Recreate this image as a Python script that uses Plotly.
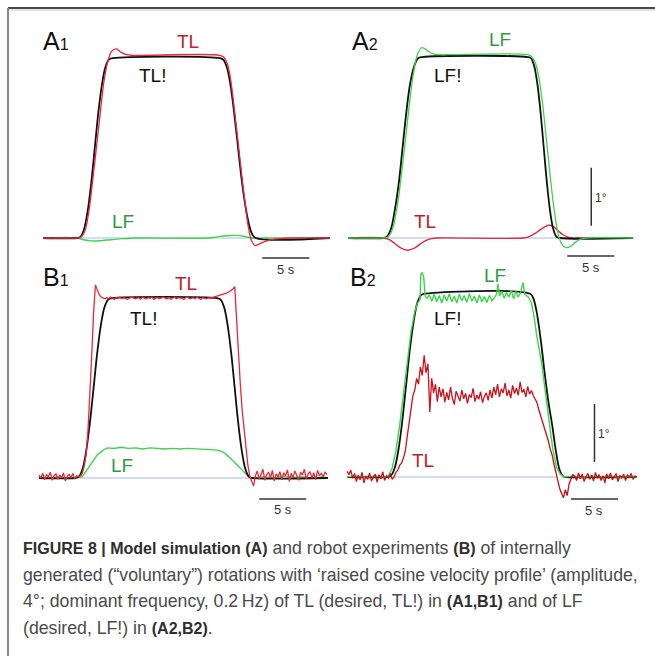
import numpy as np
import plotly.graph_objects as go

# ---------------------------------------------------------------------------
# Data (time in s, rotation in degrees)
# ---------------------------------------------------------------------------
# A1 : model simulation, desired TL! rotation
A1_CMD_T = [0, 3.6, 3.98, 4.36, 4.74, 5.12, 5.5, 5.88, 6.26, 6.64, 7.02, 7.4, 18.8, 19.18, 19.56,
            19.94, 20.32, 20.7, 21.08, 21.46, 21.84, 22.22, 22.6, 30.5]
A1_CMD_V = [0, 0, 0.02, 0.15, 0.46, 0.94, 1.55, 2.16, 2.64, 2.95, 3.08, 3.1, 3.1, 3.07, 2.93,
            2.62, 2.15, 1.6, 1.05, 0.6, 0.27, 0.07, 0, 0]
A1_TL_T = [0, 3.6, 4.0, 4.4, 4.8, 5.2, 5.65, 6.1, 6.5, 6.9, 7.3, 7.8, 8.3, 8.9, 9.6, 18.8, 19.2,
           19.6, 19.95, 20.35, 20.75, 21.15, 21.55, 21.9, 22.2, 22.55, 22.9, 23.4, 24.2, 25.2, 26.5, 30.5]
A1_TL_V = [0, 0, 0.01, 0.1, 0.38, 0.88, 1.52, 2.18, 2.72, 3.05, 3.22, 3.26, 3.2, 3.16, 3.15, 3.15, 3.12,
           3.0, 2.72, 2.2, 1.62, 1.05, 0.5, 0.12, -0.06, -0.13, -0.11, -0.07, -0.03, -0.01, 0, 0]
A1_LF_T = [0, 3.6, 4.3, 5.2, 6.2, 7.2, 8.5, 10, 17.5, 18.5, 19.5, 20.5, 21.3, 22.2, 23.5, 30.5]
A1_LF_V = [0, 0, -0.03, -0.05, -0.045, -0.03, -0.01, 0, 0, 0.02, 0.04, 0.045, 0.03, 0.0, 0, 0]
A1_ZERO_T = [2.5, 23.0]

# A2 : model simulation, desired LF! rotation
A2_CMD_T = [0, 3.7, 4.1, 4.55, 4.95, 5.4, 5.8, 6.2, 6.6, 7.05, 7.45, 7.9, 19.1, 19.44, 19.78,
            20.12, 20.46, 20.8, 21.14, 21.48, 21.82, 22.16, 22.5, 30.3]
A2_CMD_V = [0, 0, 0.02, 0.15, 0.46, 0.95, 1.56, 2.17, 2.66, 2.97, 3.1, 3.12, 3.12, 3.1, 2.97,
            2.66, 2.17, 1.56, 0.95, 0.46, 0.15, 0.02, 0, 0]
A2_LF_T = [0, 3.72, 4.2, 4.65, 5.1, 5.55, 6.0, 6.45, 6.9, 7.35, 7.8, 8.1, 8.5, 9.0, 9.8, 10.6, 19.1,
           19.5, 19.9, 20.3, 20.7, 21.1, 21.5, 21.9, 22.3, 22.7, 23.1, 23.6, 24.1, 24.7, 25.4, 30.3]
A2_LF_V = [0, 0, 0.01, 0.12, 0.42, 0.92, 1.55, 2.2, 2.78, 3.15, 3.28, 3.27, 3.22, 3.18, 3.16, 3.16, 3.16,
           3.13, 3.02, 2.75, 2.28, 1.68, 1.05, 0.5, 0.1, -0.1, -0.16, -0.15, -0.08, -0.02, 0, 0]
A2_TL_T = [0, 3.72, 4.4, 5.0, 5.6, 6.3, 7.0, 7.7, 8.3, 8.9, 9.5, 18.6, 19.2, 19.8, 20.4, 21.0, 21.4,
           21.8, 22.3, 22.8, 23.3, 23.9, 24.5, 30.3]
A2_TL_V = [0, 0, -0.03, -0.1, -0.17, -0.21, -0.18, -0.1, -0.04, -0.01, 0, 0, 0.02, 0.07, 0.14, 0.2, 0.22,
           0.2, 0.13, 0.06, 0.02, 0, 0, 0]
A2_ZERO_T = [3.7, 23.9]

# B1 : robot experiment, desired TL! rotation
B1_CMD_T = [0, 3.83, 4.22, 4.62, 5.01, 5.4, 5.8, 6.19, 6.58, 6.97, 7.37, 7.76, 18.9, 19.28, 19.66,
            20.04, 20.42, 20.8, 21.18, 21.56, 21.94, 22.32, 22.7, 30.7]
B1_CMD_V = [0, 0, 0.02, 0.15, 0.46, 0.94, 1.55, 2.16, 2.64, 2.95, 3.08, 3.1, 3.1, 3.08, 2.95,
            2.64, 2.16, 1.55, 0.94, 0.46, 0.15, 0.02, 0, 0]
B1_TL_DT = 0.2
B1_TL_V = [0.05, 0.0, 0.08, -0.03, 0.06, 0.02, 0.1, -0.04, 0.04, 0.07, -0.02, 0.05, 0.0, 0.09, -0.05,
           0.03, 0.06, 0.01, 0.08, -0.02, 0.04, 0.02, 0.03,
           0.08, 0.2, 0.4, 0.8, 1.4, 2.1, 2.85, 3.33, 3.24, 3.16, 3.12, 3.1, 3.09,
           3.11, 3.09, 3.12, 3.1, 3.08, 3.11, 3.1, 3.12, 3.09, 3.11, 3.1, 3.08, 3.1, 3.12, 3.11,
           3.09, 3.1, 3.11, 3.08, 3.12, 3.1, 3.09, 3.11, 3.1, 3.12, 3.08, 3.1, 3.11, 3.09, 3.1,
           3.12, 3.1, 3.09, 3.11, 3.08, 3.1, 3.12, 3.09, 3.11, 3.1, 3.1, 3.08, 3.11, 3.12, 3.09,
           3.1, 3.11, 3.09, 3.12, 3.1, 3.08, 3.11, 3.1, 3.09, 3.11,
           3.1, 3.11, 3.12, 3.13, 3.13, 3.14, 3.15, 3.16, 3.17, 3.19, 3.21, 3.23, 3.26, 3.3,
           2.7, 2.12, 1.6, 1.15, 0.8, 0.5, 0.22, 0.03, -0.05, -0.14, 0.04,
           0.12, -0.02, 0.08, 0.15, -0.04, 0.06, 0.1, 0.0, 0.13, -0.05, 0.07, 0.02, 0.11, -0.03,
           0.09, 0.04, 0.14, -0.06, 0.08, 0.01, 0.12, 0.03, -0.04, 0.1, 0.05, 0.15, -0.02, 0.07,
           0.11, 0.0, 0.09, -0.03, 0.13, 0.04, 0.08, 0.02, 0.1, 0.06]
B1_LF_T = [0, 1, 2, 3, 4, 4.6, 5.0, 5.4, 5.8, 6.2, 6.6, 7.0, 7.3, 8.0, 8.7, 9.5, 10.3, 11.0, 11.8, 12.6,
           13.4, 14.2, 15.0, 15.8, 16.6, 17.4, 18.2, 19.0, 19.4, 19.8, 20.2, 20.6, 21.0, 21.4, 21.8,
           22.2, 22.5, 23, 24, 25, 26, 27, 28, 29, 30, 30.7]
B1_LF_V = [0.01, 0, 0.02, 0, 0.01, 0.02, 0.12, 0.22, 0.32, 0.4, 0.45, 0.5, 0.52, 0.51, 0.53, 0.51, 0.52,
           0.5, 0.52, 0.51, 0.5, 0.51, 0.5, 0.51, 0.5, 0.5, 0.49, 0.48, 0.46, 0.42, 0.36, 0.3, 0.24,
           0.17, 0.1, 0.04, 0.0, 0.01, 0.02, 0, 0.03, 0.01, 0.02, 0, 0.02, 0.01]
B1_ZERO_T = [4.3, 22.6]

# B2 : robot experiment, desired LF! rotation
B2_CMD_T = [0, 4.25, 4.66, 5.06, 5.47, 5.87, 6.28, 6.68, 7.09, 7.49, 7.9, 8.3, 19.45, 19.8, 20.15,
            20.6, 21.0, 21.4, 21.8, 22.2, 22.6, 23.0, 23.3, 30.8]
B2_CMD_V = [0, 0, 0.02, 0.15, 0.47, 0.96, 1.58, 2.2, 2.69, 3.01, 3.14, 3.16, 3.16, 3.08, 2.85,
            2.35, 1.8, 1.3, 0.9, 0.45, 0.12, 0.01, 0, 0]
B2_LF_T = [0, 1.0, 2.0, 3.0, 4.0, 4.4, 4.8, 5.2, 5.6, 6.0, 6.4, 6.8, 7.2, 7.5, 7.75, 7.85, 8.0, 8.15,
           8.3, 8.5, 8.75, 9.0, 9.27, 9.53, 9.8, 10.07, 10.33, 10.6, 10.87, 11.13, 11.4, 11.67,
           11.93, 12.2, 12.47, 12.73, 13.0, 13.27, 13.53, 13.8, 14.07, 14.33, 14.6, 14.87, 15.13,
           15.4, 15.7, 15.9, 16.05, 16.2, 16.45, 16.7, 16.95, 17.2, 17.45, 17.7, 17.95, 18.2,
           18.45, 18.7, 18.9, 19.15, 19.3, 19.6, 19.9, 20.15, 20.3, 20.45, 20.7, 21.05, 21.45,
           21.85, 22.25, 22.65, 23.1, 24, 25, 26, 27, 28, 29, 30, 30.8]
B2_LF_V = [0.0, 0.02, -0.01, 0.02, 0.0, 0.02, 0.15, 0.45, 0.9, 1.45, 2.0, 2.5, 2.85, 3.0, 3.05, 3.5,
           3.52, 3.45, 3.12, 3.08, 3.14, 3.03, 3.15, 3.02, 3.13, 3.0, 3.14, 3.03, 3.16, 3.02, 3.12,
           3.0, 3.15, 3.04, 3.13, 3.01, 3.16, 3.03, 3.12, 3.0, 3.14, 3.02, 3.11, 3.01, 3.13, 3.04,
           3.1, 3.15, 3.33, 3.12, 3.2, 3.08, 3.18, 3.1, 3.22, 3.07, 3.2, 3.1, 3.18, 3.35, 3.15,
           3.12, 3.1, 3.0, 2.75, 2.45, 2.3, 2.2, 1.95, 1.5, 1.0, 0.5, 0.18, 0.05, 0.0, 0.02, -0.01,
           0.02, 0.0, 0.02, -0.01, 0.01, 0]
B2_TL_DT = 0.2
B2_TL_V = [0.10, 0.04, 0.12, -0.02, 0.06, -0.08, 0.03, -0.05, 0.08, -0.1, 0.02, -0.04, 0.07, -0.07,
           0.0, 0.05, -0.09, 0.04, -0.03, 0.09, -0.06, 0.02, -0.02, 0.06, -0.04,
           0.0, 0.08, 0.12, 0.2, 0.24, 0.33, 0.45, 0.7, 0.95, 1.25, 1.4, 1.5, 1.7, 1.6, 1.9, 1.75,
           2.1, 1.8, 1.95, 1.12, 1.7, 1.45, 1.6, 1.3, 1.55,
           1.38, 1.52, 1.29, 1.46, 1.33, 1.55, 1.36, 1.25, 1.48, 1.40, 1.31, 1.50, 1.35, 1.44,
           1.27, 1.42, 1.37, 1.53, 1.30, 1.41, 1.34, 1.47, 1.28, 1.39, 1.45, 1.32, 1.50, 1.36,
           1.55, 1.42, 1.60, 1.38, 1.52, 1.45, 1.62, 1.40, 1.50, 1.36, 1.58, 1.44, 1.53, 1.41,
           1.64, 1.46, 1.51, 1.38, 1.56, 1.43, 1.49, 1.40,
           1.35, 1.28, 1.15, 1.05, 0.95, 0.85, 0.72, 0.62, 0.48, 0.38, 0.22, 0.08, -0.1, -0.2,
           -0.28, -0.36, -0.22, -0.32, -0.12, -0.05, 0.04,
           0.02, -0.06, 0.07, -0.03, 0.05, -0.08, 0.01, 0.06, -0.04, 0.03, -0.07, 0.08, -0.02,
           0.04, -0.06, 0.02, -0.1, 0.05, -0.03, 0.07, -0.05, 0.0, 0.06, -0.08, 0.03, -0.02, 0.05,
           -0.06, 0.04, -0.01, 0.06, -0.04, 0.02, 0.0]
B2_ZERO_T = [4.8, 22.3]

SCALE_TIME = 5      # s
SCALE_ANGLE = 1     # degree

# ---------------------------------------------------------------------------
# Layout geometry
# ---------------------------------------------------------------------------
W, H = 655, 656
SX, SY = 9.41, 58.0          # px per second, px per degree

RED = "#e8283c"
RED_DARK = "#c8121c"
GREEN = "#3cd44c"
BLACK = "#111111"
BLUE = "#a9b9ec"
TXT_RED = "#c4202a"
TXT_GREEN = "#2e9c3e"
FONT = "Liberation Sans, Arial, sans-serif"

# pixel box (left, right, top, bottom) and pixel position of t=0 / 0 deg
PANELS = [
    dict(name="A1", box=(30, 336, 16, 285), origin=(43, 238)),
    dict(name="A2", box=(338, 652, 16, 285), origin=(348, 238)),
    dict(name="B1", box=(30, 336, 262, 522), origin=(39, 478)),
    dict(name="B2", box=(338, 652, 262, 522), origin=(347, 477)),
]

fig = go.Figure()
layout_axes = {}
for i, p in enumerate(PANELS):
    L, R, T, B = p["box"]
    x0, y0 = p["origin"]
    sfx = "" if i == 0 else str(i + 1)
    layout_axes["xaxis" + sfx] = dict(domain=[L / W, R / W], range=[(L - x0) / SX, (R - x0) / SX],
                                      visible=False, fixedrange=True, anchor="y" + sfx)
    layout_axes["yaxis" + sfx] = dict(domain=[1 - B / H, 1 - T / H], range=[(y0 - B) / SY, (y0 - T) / SY],
                                      visible=False, fixedrange=True, anchor="x" + sfx)
    p["xref"] = "x" + sfx
    p["yref"] = "y" + sfx


def add_line(panel, t, v, color, width, shape="spline"):
    p = PANELS[panel]
    fig.add_trace(go.Scatter(x=t, y=v, mode="lines", line=dict(color=color, width=width, shape=shape),
                             xaxis=p["xref"], yaxis=p["yref"], hoverinfo="skip", showlegend=False))


def zero_line(panel, span):
    add_line(panel, span, [0, 0], BLUE, 1.2, "linear")


def sampled(dt, values):
    return list(np.arange(len(values)) * dt)


# A1
zero_line(0, A1_ZERO_T)
add_line(0, A1_LF_T, A1_LF_V, GREEN, 1.4)
add_line(0, A1_CMD_T, A1_CMD_V, BLACK, 1.8)
add_line(0, A1_TL_T, A1_TL_V, RED, 1.3)
# A2
zero_line(1, A2_ZERO_T)
add_line(1, A2_TL_T, A2_TL_V, RED, 1.4)
add_line(1, A2_CMD_T, A2_CMD_V, BLACK, 1.8)
add_line(1, A2_LF_T, A2_LF_V, GREEN, 1.3)
# B1
zero_line(2, B1_ZERO_T)
add_line(2, B1_LF_T, B1_LF_V, GREEN, 1.4, "linear")
add_line(2, B1_CMD_T, B1_CMD_V, BLACK, 1.8)
add_line(2, sampled(B1_TL_DT, B1_TL_V), B1_TL_V, RED, 1.3, "linear")
# B2
zero_line(3, B2_ZERO_T)
add_line(3, B2_CMD_T, B2_CMD_V, BLACK, 1.8)
add_line(3, B2_LF_T, B2_LF_V, GREEN, 1.4, "linear")
add_line(3, sampled(B2_TL_DT, B2_TL_V), B2_TL_V, RED_DARK, 1.3, "linear")

shapes = []
annotations = []

# time scale bars (5 s) and angle scale bars (1 deg)
TIME_BARS = [(0, 23.3, -0.345), (1, 23.3, -0.31), (2, 23.4, -0.36), (3, 23.8, -0.38)]
for k, t0, yb in TIME_BARS:
    p = PANELS[k]
    shapes.append(dict(type="line", xref=p["xref"], yref=p["yref"], x0=t0, x1=t0 + SCALE_TIME,
                       y0=yb, y1=yb, line=dict(color="#333333", width=1.5)))
    annotations.append(dict(xref=p["xref"], yref=p["yref"], x=t0 + SCALE_TIME / 2, y=yb - 0.19,
                            text=f"{SCALE_TIME} s", showarrow=False, font=dict(size=13, color="#333333",
                                                                              family=FONT)))
ANGLE_BARS = [(1, 25.85, 0.21), (3, 26.3, 0.26)]
for k, tb, y0 in ANGLE_BARS:
    p = PANELS[k]
    shapes.append(dict(type="line", xref=p["xref"], yref=p["yref"], x0=tb, x1=tb,
                       y0=y0, y1=y0 + SCALE_ANGLE, line=dict(color="#333333", width=1.5)))
    annotations.append(dict(xref=p["xref"], yref=p["yref"], x=tb + 0.2, y=y0 + SCALE_ANGLE * 0.48,
                            xanchor="left", text=f"{SCALE_ANGLE}°", showarrow=False,
                            font=dict(size=12, color="#333333", family=FONT)))

# frame lines
shapes.append(dict(type="line", xref="paper", yref="paper", x0=8 / W, x1=1, y0=1 - 8 / H, y1=1 - 8 / H,
                   line=dict(color="#4a4a4a", width=2)))
shapes.append(dict(type="line", xref="paper", yref="paper", x0=8 / W, x1=1, y0=1 - 10 / H, y1=1 - 10 / H,
                   line=dict(color="#c8c8c8", width=1)))
shapes.append(dict(type="line", xref="paper", yref="paper", x0=8 / W, x1=8 / W, y0=0, y1=1 - 8 / H,
                   line=dict(color="#8a8a8a", width=2)))


def label(px, py, text, color, size, anchor="center"):
    annotations.append(dict(xref="paper", yref="paper", x=px / W, y=1 - py / H, text=text,
                            showarrow=False, xanchor=anchor, yanchor="middle",
                            font=dict(size=size, color=color, family=FONT)))


# panel letters
for px, py, letter, num in [(41, 41, "A", "1"), (350, 41, "A", "2"), (41, 277, "B", "1"), (348, 277, "B", "2")]:
    label(px, py, f"{letter}<span style='font-size:16px'>{num}</span>", "#111111", 25, "left")

# trace names
label(188, 41, "TL", TXT_RED, 19)
label(152, 75, "TL!", "#111111", 19)
label(123, 221, "LF", TXT_GREEN, 19)
label(500, 39, "LF", TXT_GREEN, 19)
label(447, 75, "LF!", "#111111", 19)
label(425, 222, "TL", TXT_RED, 19)
label(186, 283, "TL", TXT_RED, 19)
label(143, 318, "TL!", "#111111", 19)
label(122, 465, "LF", TXT_GREEN, 19)
label(495, 275, "LF", TXT_GREEN, 19)
label(447, 318, "LF!", "#111111", 19)
label(423, 460, "TL", TXT_RED, 19)


# caption: light regular text with tighter bold highlights
def bold(s):
    return f"<b><span style='font-size:16px;fill:#2e2e2e'>{s}</span></b>"


CAPTION = [
    bold("FIGURE 8 | Model simulation (A)") + " and robot experiments " + bold("(B)") + " of internally",
    "generated (“voluntary”) rotations with ‘raised cosine velocity profile’ (amplitude,",
    "4°; dominant frequency, 0.2\u2009Hz) of TL (desired, TL!) in " + bold("(A1,B1)") + " and of LF",
    "(desired, LF!) in " + bold("(A2,B2)") + ".",
]
for j, line in enumerate(CAPTION):
    label(21, 548 + j * 26.7, line, "#4a4a4a", 17.7, "left")

fig.update_layout(width=W, height=H, margin=dict(l=0, r=0, t=0, b=0), paper_bgcolor="white",
                  plot_bgcolor="rgba(0,0,0,0)", shapes=shapes, annotations=annotations, **layout_axes)
fig.write_html("out.html")
